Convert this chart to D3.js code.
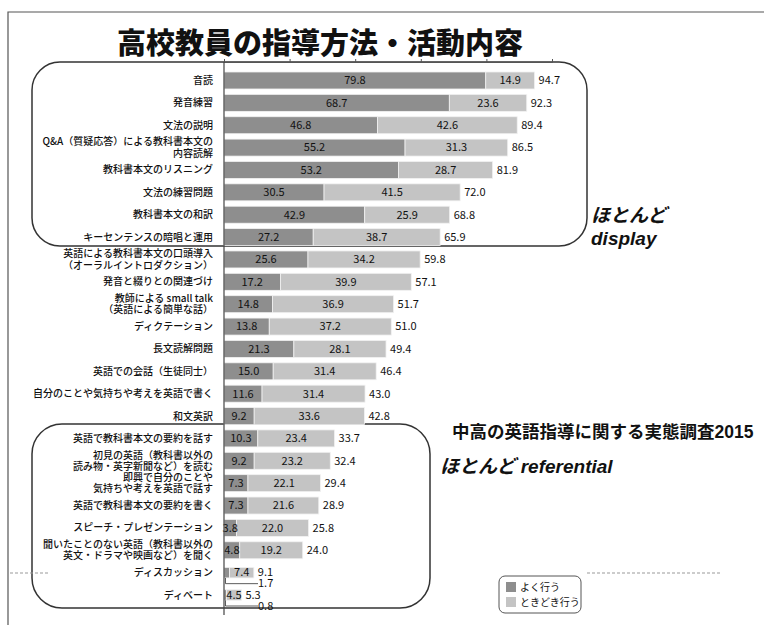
<!DOCTYPE html>
<html>
<head>
<meta charset="utf-8">
<script src="https://cdn.jsdelivr.net/npm/d3@7"></script>
<style>
  body { margin: 0; background: #fff; }
  text { font-family: "Noto Sans CJK JP", "Noto Sans", sans-serif; }
</style>
</head>
<body>
<div id="chart"></div>
<script>
// categories (top to bottom), "\n" = line break in the label
const categories = [
    "音読",
    "発音練習",
    "文法の説明",
    "Q&A（質疑応答）による教科書本文の\n内容読解",
    "教科書本文のリスニング",
    "文法の練習問題",
    "教科書本文の和訳",
    "キーセンテンスの暗唱と運用",
    "英語による教科書本文の口頭導入\n（オーラルイントロダクション）",
    "発音と綴りとの関連づけ",
    "教師による small talk\n（英語による簡単な話）",
    "ディクテーション",
    "長文読解問題",
    "英語での会話（生徒同士）",
    "自分のことや気持ちや考えを英語で書く",
    "和文英訳",
    "英語で教科書本文の要約を話す",
    "初見の英語（教科書以外の\n読み物・英字新聞など）を読む",
    "即興で自分のことや\n気持ちや考えを英語で話す",
    "英語で教科書本文の要約を書く",
    "スピーチ・プレゼンテーション",
    "聞いたことのない英語（教科書以外の\n英文・ドラマや映画など）を聞く",
    "ディスカッション",
    "ディベート"
]
// よく行う
const often = [79.8, 68.7, 46.8, 55.2, 53.2, 30.5, 42.9, 27.2, 25.6, 17.2, 14.8, 13.8,
    21.3, 15.0, 11.6, 9.2, 10.3, 9.2, 7.3, 7.3, 3.8, 4.8, 1.7, 0.8]
// ときどき行う
const sometimes = [14.9, 23.6, 42.6, 31.3, 28.7, 41.5, 25.9, 38.7, 34.2, 39.9, 36.9, 37.2,
    28.1, 31.4, 31.4, 33.6, 23.4, 23.2, 22.1, 21.6, 22.0, 19.2, 7.4, 4.5]
// 合計
const totals = [94.7, 92.3, 89.4, 86.5, 81.9, 72.0, 68.8, 65.9, 59.8, 57.1, 51.7, 51.0,
    49.4, 46.4, 43.0, 42.8, 33.7, 32.4, 29.4, 28.9, 25.8, 24.0, 9.1, 5.3]
const xTicks = [0, 20, 40, 60, 80, 100]
const legendLabels = ["よく行う", "ときどき行う"]

const width = 764
const height = 625
const darkColor = "#8e8e8e"
const lightColor = "#c4c4c4"

const svg = d3.select("#chart")
    .append("svg")
    .attr("width", width)
    .attr("height", height)

const x = d3.scaleLinear().domain([0, 100]).range([224, 552])
const y = d3.scaleBand()
    .domain(categories)
    .range([69.3, 606.2])
    .paddingInner(0.24)
    .paddingOuter(0.12)

// outer frame
svg.append("path")
    .attr("d", "M8,625 V12 H764")
    .attr("fill", "none")
    .attr("stroke", "#555")
    .attr("stroke-width", 1.2)

// title
svg.append("text")
    .attr("x", 320)
    .attr("y", 54)
    .attr("text-anchor", "middle")
    .style("font-size", "29px")
    .style("font-weight", 900)
    .style("fill", "#111")
    .text("高校教員の指導方法・活動内容")

// rounded group boxes
const boxes = [
    {x: 32, y: 62, w: 555, h: 184, r: 28},
    {x: 32, y: 424, w: 398, h: 184, r: 30}
]
svg.selectAll(".box")
    .data(boxes)
    .join("rect")
    .attr("class", "box")
    .attr("x", d => d.x)
    .attr("y", d => d.y)
    .attr("width", d => d.w)
    .attr("height", d => d.h)
    .attr("rx", d => d.r)
    .attr("fill", "none")
    .attr("stroke", "#333")
    .attr("stroke-width", 1.5)

// dashed separators
svg.selectAll(".dash")
    .data([[10, 50], [587, 722]])
    .join("line")
    .attr("x1", d => d[0])
    .attr("x2", d => d[1])
    .attr("y1", 573)
    .attr("y2", 573)
    .attr("stroke", "#999")
    .attr("stroke-dasharray", "3,2")

// top axis
svg.append("g")
    .attr("transform", "translate(0,62)")
    .call(d3.axisTop(x).tickValues(xTicks).tickSize(3).tickFormat(""))
    .call(g => g.selectAll("path, line").attr("stroke", "#555"))

// bars
const rows = categories.map((c, i) => ({
    name: c, often: often[i], sometimes: sometimes[i], total: totals[i],
    small: often[i] < 3
}))
const barH = d => d.small ? y.bandwidth() * 0.62 : y.bandwidth()
const barY = d => y(d.name) + (y.bandwidth() - barH(d)) / 2
const cy = d => y(d.name) + y.bandwidth() / 2

const row = svg.selectAll(".row")
    .data(rows)
    .join("g")
    .attr("class", "row")

row.append("rect")
    .attr("x", x(0))
    .attr("y", barY)
    .attr("width", d => x(d.often) - x(0))
    .attr("height", barH)
    .attr("fill", darkColor)
    .attr("stroke", "#f2f2f2")
    .attr("stroke-width", 0.8)

row.append("rect")
    .attr("x", d => x(d.often))
    .attr("y", barY)
    .attr("width", d => x(d.often + d.sometimes) - x(d.often))
    .attr("height", barH)
    .attr("fill", lightColor)
    .attr("stroke", "#f2f2f2")
    .attr("stroke-width", 0.8)

// value labels
const numStyle = sel => sel.style("font-size", "11px").style("fill", "#111")

row.filter(d => !d.small).append("text")
    .attr("x", d => (x(0) + x(d.often)) / 2)
    .attr("y", cy)
    .attr("dy", "0.35em")
    .attr("text-anchor", "middle")
    .call(numStyle)
    .text(d => d.often.toFixed(1))

row.append("text")
    .attr("x", d => (x(d.often) + x(d.often + d.sometimes)) / 2)
    .attr("y", cy)
    .attr("dy", "0.35em")
    .attr("text-anchor", "middle")
    .call(numStyle)
    .text(d => d.sometimes.toFixed(1))

row.append("text")
    .attr("x", d => x(d.total) + 4)
    .attr("y", cy)
    .attr("dy", "0.35em")
    .call(numStyle)
    .text(d => d.total.toFixed(1))

// leader labels for very small "often" values
const small = row.filter(d => d.small)
small.append("path")
    .attr("d", d => `M${x(0) + 1.5},${barY(d) + barH(d)} V${cy(d) + 11} H${x(0) + 34}`)
    .attr("fill", "none")
    .attr("stroke", "#333")
    .attr("stroke-width", 0.8)
small.append("text")
    .attr("x", x(0) + 34)
    .attr("y", d => cy(d) + 11)
    .attr("dy", "0.35em")
    .call(numStyle)
    .text(d => d.often.toFixed(1))

// category labels, one text per line
row.each(function(d) {
    const lines = d.name.split("\n")
    const lh = 11.2
    d3.select(this).selectAll(".cat")
        .data(lines)
        .join("text")
        .attr("class", "cat")
        .attr("x", 213)
        .attr("y", (l, k) => cy(d) + (k - (lines.length - 1) / 2) * lh)
        .attr("dy", "0.35em")
        .attr("text-anchor", "end")
        .style("font-size", "10px")
        .style("font-weight", 500)
        .style("fill", "#111")
        .text(l => l)
})

// zero line
svg.append("line")
    .attr("x1", x(0)).attr("x2", x(0))
    .attr("y1", 62).attr("y2", 615)
    .attr("stroke", "#444")
    .attr("stroke-width", 1.2)

// annotations
const note = (tx, ty, size, txt, italic) => svg.append("text")
    .attr("x", tx)
    .attr("y", ty)
    .style("font-family", "'Liberation Sans', 'Noto Sans CJK JP', sans-serif")
    .style("font-size", size + "px")
    .style("font-weight", "bold")
    .style("font-style", italic ? "italic" : "normal")
    .style("fill", "#111")
    .text(txt)

note(591, 222, 19, "ほとんど", true)
note(591, 245, 19, "display", true)
note(452, 438, 17.5, "中高の英語指導に関する実態調査2015", false)
note(440, 473, 19, "ほとんど referential", true)

// legend
const legend = svg.append("g").attr("transform", "translate(499,576)")
legend.append("rect")
    .attr("width", 82)
    .attr("height", 37)
    .attr("rx", 6)
    .attr("fill", "#fff")
    .attr("stroke", "#555")
legend.selectAll(".sw")
    .data(legendLabels)
    .join("rect")
    .attr("x", 7)
    .attr("y", (d, i) => 6 + i * 15)
    .attr("width", 10)
    .attr("height", 10)
    .attr("fill", (d, i) => i === 0 ? darkColor : lightColor)
legend.selectAll(".lt")
    .data(legendLabels)
    .join("text")
    .attr("x", 21)
    .attr("y", (d, i) => 11 + i * 15)
    .attr("dy", "0.35em")
    .style("font-size", "10px")
    .style("fill", "#111")
    .text(d => d)
</script>
</body>
</html>
